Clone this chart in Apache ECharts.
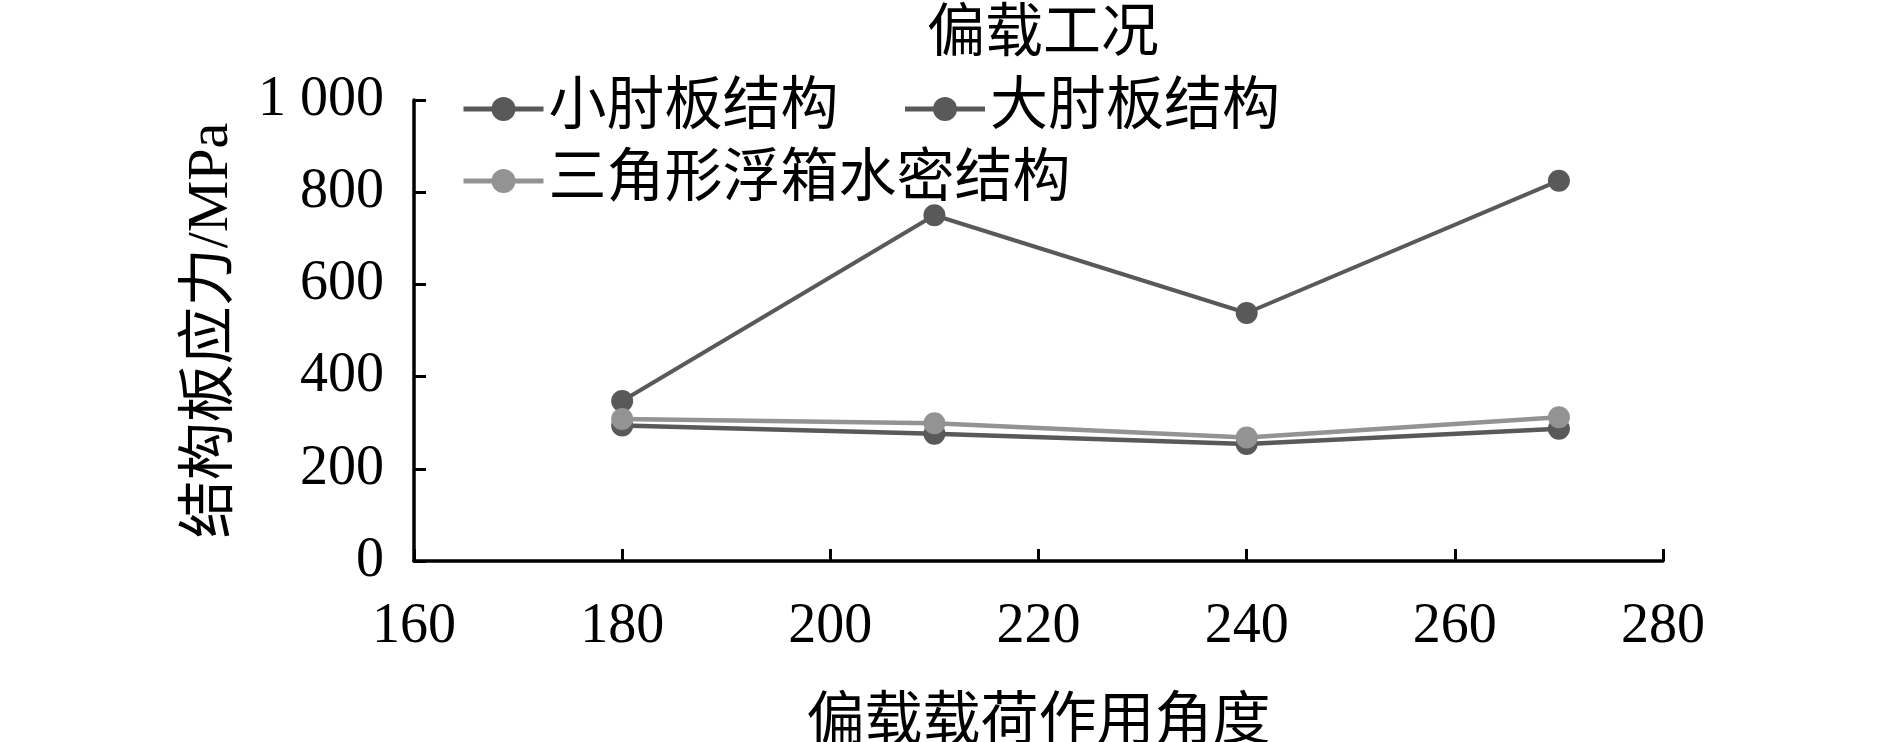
<!DOCTYPE html>
<html>
<head>
<meta charset="utf-8">
<script src="https://cdn.jsdelivr.net/npm/echarts@6/dist/echarts.min.js"></script>
<style>
    html, body { margin: 0; padding: 0; background: #fff; }
    #main { width: 1890px; height: 742px; }
</style>
</head>
<body>
<div id="main"></div>
<script>
// 偏载载荷作用角度
var angles = [180, 210, 240, 270];
var smallBracket = [347, 750, 538, 825];   // 小肘板结构
var largeBracket = [294, 276, 254, 287];   // 大肘板结构
var triangleBox = [308, 299, 268, 312];    // 三角形浮箱水密结构

var FONT = '"Liberation Serif", "Times New Roman", "Noto Sans CJK SC", serif';
var DARK = '#595959';
var LIGHT = '#939393';

function pairs(ys) {
    return angles.map(function (x, i) { return [x, ys[i]]; });
}

var legendText = { color: '#000', fontSize: 58, fontFamily: FONT, lineHeight: 60 };

var mychart = echarts.init(document.getElementById('main'));
var option = {
    backgroundColor: '#fff',
    animation: false,
    title: {
        text: '偏载工况',
        left: 922,
        top: 2,
        textStyle: { color: '#000', fontSize: 58, fontWeight: 'normal', fontFamily: FONT }
    },
    legend: [
        {
            left: 456,
            top: 74,
            itemWidth: 80,
            itemHeight: 30,
            itemGap: 64,
            lineStyle: { width: 5 },
            textStyle: legendText,
            data: ['小肘板结构', '大肘板结构']
        },
        {
            left: 456,
            top: 146,
            itemWidth: 80,
            itemHeight: 30,
            lineStyle: { width: 5 },
            textStyle: legendText,
            data: ['三角形浮箱水密结构']
        }
    ],
    grid: {
        left: 414,
        right: 227,
        top: 100,
        bottom: 181,
        outerBoundsMode: 'none'
    },
    xAxis: {
        type: 'value',
        min: 160,
        max: 280,
        interval: 20,
        name: '偏载载荷作用角度',
        nameLocation: 'middle',
        nameGap: 134,
        nameTextStyle: { color: '#000', fontSize: 58, fontFamily: FONT },
        axisLine: { lineStyle: { color: '#000', width: 3.5 } },
        axisTick: { inside: true, length: 12, lineStyle: { color: '#000', width: 3 } },
        axisLabel: { color: '#000', fontSize: 56, fontFamily: FONT, margin: 38 },
        splitLine: { show: false }
    },
    yAxis: {
        type: 'value',
        min: 0,
        max: 1000,
        interval: 200,
        name: '结构板应力/MPa',
        nameLocation: 'middle',
        nameGap: 173,
        nameTextStyle: { color: '#000', fontSize: 58, fontFamily: FONT },
        axisLine: { show: true, lineStyle: { color: '#000', width: 3.5 } },
        axisTick: { show: true, inside: true, length: 12, lineStyle: { color: '#000', width: 3 } },
        axisLabel: {
            color: '#000', fontSize: 56, fontFamily: FONT, margin: 30,
            formatter: function (v) { return v >= 1000 ? '1 000' : String(v); }
        },
        splitLine: { show: false }
    },
    series: [
        {
            name: '小肘板结构',
            type: 'line',
            data: pairs(smallBracket),
            symbol: 'circle',
            symbolSize: 22,
            lineStyle: { color: DARK, width: 4 },
            itemStyle: { color: DARK }
        },
        {
            name: '大肘板结构',
            type: 'line',
            data: pairs(largeBracket),
            symbol: 'circle',
            symbolSize: 22,
            lineStyle: { color: DARK, width: 4.5 },
            itemStyle: { color: DARK }
        },
        {
            name: '三角形浮箱水密结构',
            type: 'line',
            data: pairs(triangleBox),
            symbol: 'circle',
            symbolSize: 22,
            lineStyle: { color: LIGHT, width: 4.5 },
            itemStyle: { color: LIGHT }
        }
    ]
};
mychart.setOption(option);
</script>
</body>
</html>
